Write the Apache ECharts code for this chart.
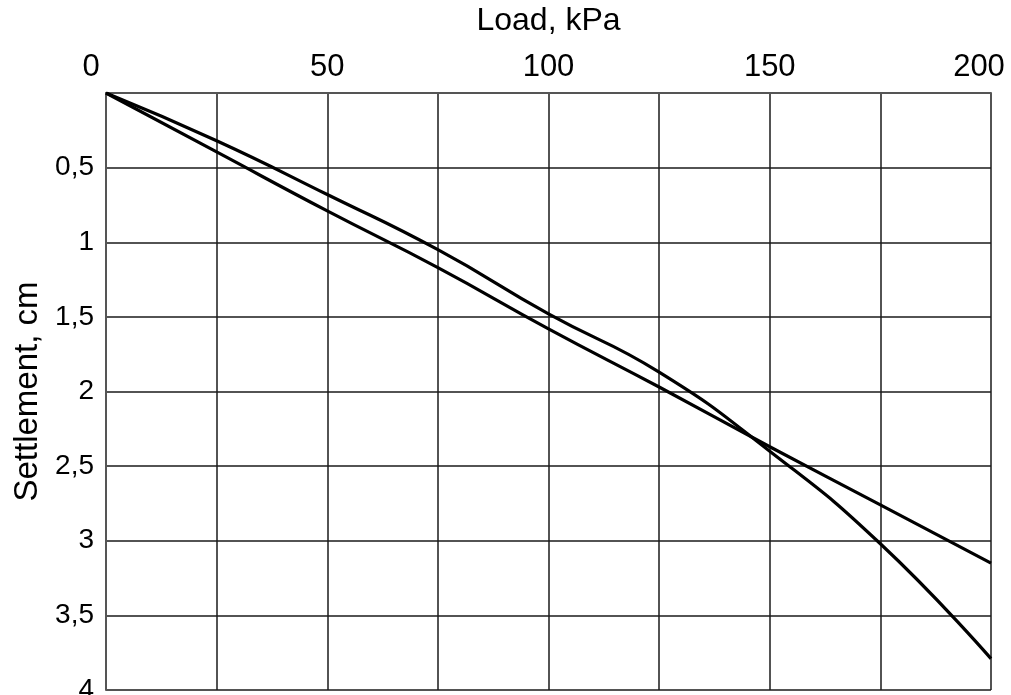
<!DOCTYPE html>
<html>
<head>
<meta charset="utf-8">
<script src="https://cdn.jsdelivr.net/npm/echarts@6/dist/echarts.min.js"></script>
<style>
html,body{margin:0;padding:0;background:#fff;}
#chart{width:1011px;height:695px;}
</style>
</head>
<body>
<div id="chart"></div>
<script>
// Data
var loads = [0, 25, 50, 75, 100, 125, 150, 175, 200];
var settlementA = [0, 0.395, 0.79, 1.17, 1.58, 1.97, 2.37, 2.76, 3.15];
var settlementB = [0, 0.32, 0.68, 1.05, 1.48, 1.87, 2.40, 3.02, 3.79];
var xTickLabels = ['0', '50', '100', '150', '200'];
var xName = 'Load, kPa';
var yName = 'Settlement, cm';

function pairs(xs, ys) { return xs.map(function (x, i) { return [x, ys[i]]; }); }

var font = 'Liberation Sans, Arial, sans-serif';
var chart = echarts.init(document.getElementById('chart'));
chart.setOption({
  animation: false,
  backgroundColor: '#fff',
  grid: { left: 106, top: 93, right: 20, bottom: 5, containLabel: false, outerBoundsMode: 'none' },
  xAxis: {
    type: 'value', position: 'top', min: 0, max: 200, interval: 25,
    name: xName, nameLocation: 'middle', nameGap: 56,
    nameTextStyle: { fontFamily: font, fontSize: 32, color: '#000' },
    axisLine: { show: true, lineStyle: { color: '#555', width: 2 } },
    axisTick: { show: false },
    axisLabel: {
      margin: 10, fontFamily: font, fontSize: 31, color: '#000',
      formatter: function (v) {
        var s = String(v);
        if (xTickLabels.indexOf(s) < 0) return '';
        if (v === 0) return '{z|0}';
        if (v === 200) return '{m|200}';
        return s;
      },
      rich: {
        z: { fontFamily: font, fontSize: 31, color: '#000', padding: [0, 30, 0, 0] },
        m: { fontFamily: font, fontSize: 31, color: '#000', padding: [0, 24, 0, 0] }
      }
    },
    splitLine: { show: true, lineStyle: { color: '#1a1a1a', width: 1.5 } }
  },
  yAxis: {
    type: 'value', inverse: true, min: 0, max: 4, interval: 0.5,
    name: yName, nameLocation: 'middle', nameGap: 58,
    nameTextStyle: { fontFamily: font, fontSize: 33, color: '#000' },
    axisLine: { show: true, lineStyle: { color: '#555', width: 2 } },
    axisTick: { show: false },
    axisLabel: {
      margin: 12, fontFamily: font, fontSize: 28, color: '#000',
      formatter: function (v) { return v === 0 ? '' : String(v).replace('.', ','); }
    },
    splitLine: { show: true, lineStyle: { color: '#1a1a1a', width: 1.5 } }
  },
  series: [
    { type: 'line', data: pairs(loads, settlementA), smooth: 0.5, symbol: 'none',
      lineStyle: { color: '#000', width: 3.2 } },
    { type: 'line', data: pairs(loads, settlementB), smooth: 0.5, symbol: 'none',
      lineStyle: { color: '#000', width: 3.2 } }
  ]
});
</script>
</body>
</html>
